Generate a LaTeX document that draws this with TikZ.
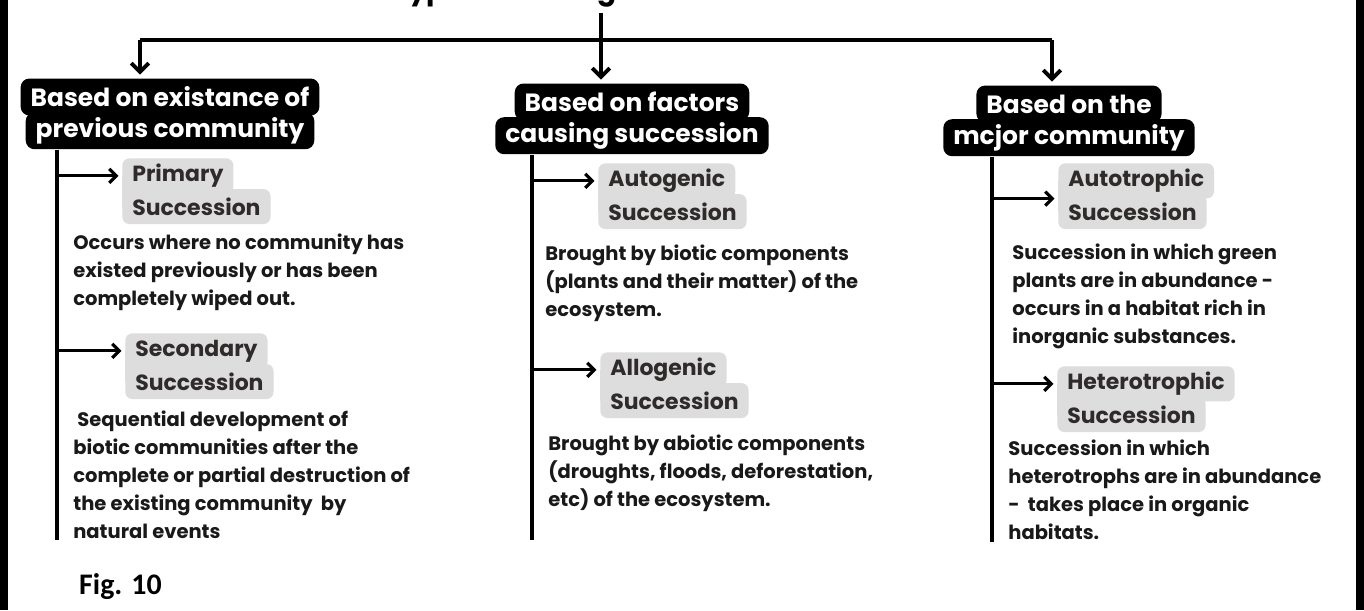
\documentclass[tikz,border=0pt]{standalone}
\usepackage{fontspec}
\setmainfont{Poppins}
\newfontfamily\figfont{Carlito}
\usepackage{xcolor}
\usepackage{tikz}
\usetikzlibrary{arrows.meta, positioning, calc}
\definecolor{boxgray}{HTML}{DDDDDD}
\definecolor{labelink}{HTML}{2F2B2B}

\begin{document}
\begin{tikzpicture}[
    x=0.02cm, y=-0.02cm,
    header/.style={rectangle, rounded corners=5pt, fill=black, text=white, inner xsep=0.2cm, inner ysep=0pt, minimum height=0.74cm, font=\bfseries\fontsize{14.2}{16}\selectfont},
    kind/.style={rectangle, rounded corners=4pt, fill=boxgray, text=labelink, inner xsep=0.2cm, inner ysep=0pt, minimum height=0.7cm, anchor=north west, font=\bfseries\fontsize{12.5}{14}\selectfont},
    kindline/.style={kind, below=-0.1cm of #1.south west, anchor=north west},
    desc/.style={anchor=north west, inner sep=0pt, align=left, text=black!90, font=\bfseries\fontsize{11.1}{15.9}\selectfont},
    link/.style={line width=2.2pt},
    arrow/.style={-{Straight Barb[length=5pt, width=10pt]}, line width=2.2pt, shorten >=2pt},
    branch/.style={-{Straight Barb[length=4pt, width=8pt]}, line width=1.8pt, shorten >=2pt}
]
    \useasboundingbox (0,0) rectangle (1364,610);
    \clip (0,0) rectangle (1364,610);
    \fill[white] (0,0) rectangle (1364,610);
    \fill[black] (0,0) rectangle (8,610);
    \fill[black] (1356,0) rectangle (1364,610);

    % title, cut off by the top edge
    \node[anchor=base, font=\bfseries\fontsize{16}{18}\selectfont] (title) at (615,-1) {Types of ecological succession};

    % the three headers
    \node[header] (exist) at (170,97) {Based on existance of};
    \node[header, below=-0.08cm of exist] (exist2) {previous community};
    \node[header] (factor) at (632,102) {Based on factors};
    \node[header, below=-0.08cm of factor] (factor2) {causing succession};
    \node[header] (major) at (1069,104) {Based on the};
    \node[header, below=-0.08cm of major] (major2) {mcjor community};

    \coordinate (dropA) at (140,40);
    \coordinate (dropB) at (601,40);
    \coordinate (dropC) at (1052,40);
    \draw[link] (dropA) -- (dropC);
    \draw[arrow] (dropB |- title.south) -- (dropB |- factor.north);
    \draw[arrow] (dropA) -- (dropA |- exist.north);
    \draw[arrow] (dropC) -- (dropC |- major.north);

    % left column
    \coordinate (spineA) at (57,540);
    \draw[link] (exist2.south -| spineA) -- (spineA);
    \node[kind] (primary) at (122,158) {Primary};
    \node[kindline=primary] (primary2) {Succession};
    \node[desc] (primarytxt) at (73,234) {Occurs where no community has\\existed previously or has been\\completely wiped out.};
    \node[kind] (secondary) at (125,333) {Secondary};
    \node[kindline=secondary] (secondary2) {Succession};
    \node[desc] (secondarytxt) at (73,411) {\ Sequential development of\\biotic communities after the\\complete or partial destruction of\\the existing community\ \ by\\natural events};
    \draw[branch] (spineA |- primary.west) -- (primary.west);
    \draw[branch] (spineA |- secondary.west) -- (secondary.west);

    % middle column
    \coordinate (spineB) at (532,540);
    \draw[link] (factor2.south -| spineB) -- (spineB);
    \node[kind] (autogenic) at (598,163) {Autogenic};
    \node[kindline=autogenic] (autogenic2) {Succession};
    \node[desc] (autogenictxt) at (545,245) {Brought by biotic components\\(plants and their matter) of the\\ecosystem.};
    \node[kind] (allogenic) at (600,352) {Allogenic};
    \node[kindline=allogenic] (allogenic2) {Succession};
    \node[desc] (allogenictxt) at (548,435) {Brought by abiotic components\\(droughts, floods, deforestation,\\etc) of the ecosystem.};
    \draw[branch] (spineB |- autogenic.west) -- (autogenic.west);
    \draw[branch] (spineB |- allogenic.west) -- (allogenic.west);

    % right column
    \coordinate (spineC) at (992,542);
    \draw[link] (major2.south -| spineC) -- (spineC);
    \node[kind] (autotrophic) at (1058,163) {Autotrophic};
    \node[kindline=autotrophic] (autotrophic2) {Succession};
    \node[desc] (autotrophictxt) at (1012,244) {Succession in which green\\plants are in abundance -\\occurs in a habitat rich in\\inorganic substances.};
    \node[kind] (hetero) at (1057,366) {Heterotrophic};
    \node[kindline=hetero] (hetero2) {Succession};
    \node[desc] (heterotxt) at (1008,440) {Succession in which\\heterotrophs are in abundance\\-\ \ takes place in organic\\habitats.};
    \draw[branch] (spineC |- autotrophic.south west) -- (autotrophic.south west);
    \draw[branch] (spineC |- hetero.west) -- (hetero.west);

    % straight left edge where two grey lines meet
    \foreach \top/\bot in {primary/primary2, secondary/secondary2, autogenic/autogenic2, allogenic/allogenic2, autotrophic/autotrophic2, hetero/hetero2}
        \fill[boxgray] (\top.west) rectangle ($(\bot.west)+(6,0)$);

    \node[anchor=west, font=\figfont\bfseries\fontsize{17}{19}\selectfont] (fig) at (73,587) {Fig. 10};
\end{tikzpicture}
\end{document}
